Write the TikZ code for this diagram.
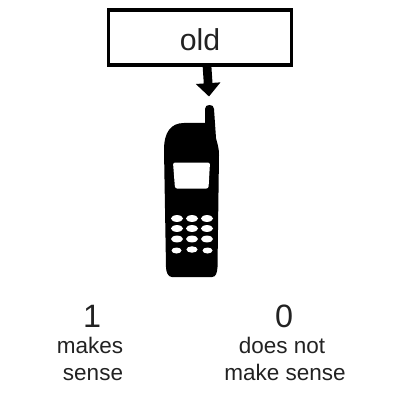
\documentclass[tikz,border=0pt]{standalone}
\usepackage{fontspec}
\setmainfont{Liberation Sans}
\usetikzlibrary{positioning}
\usetikzlibrary{arrows.meta}
\definecolor{darktext}{HTML}{222222}
\tikzset {
  % framed word on top
  wordbox/.style = {draw=black, line width=2.6pt, fill=white, minimum width=4.575cm, minimum height=1.375cm, inner sep=0pt, text=darktext, font=\fontsize{21.5}{24}\selectfont, text height=0.625cm, text depth=0cm},
  % big block arrow
  blockarrow/.style = {-{Triangle[width=17pt, length=9.5pt]}, line width=6.2pt, black},
  % score digits and captions
  digit/.style = {anchor=base, text=darktext, font=\fontsize{23}{26}\selectfont, inner sep=0pt},
  caption/.style = {anchor=base, text=darktext, font=\fontsize{16}{18}\selectfont, inner sep=0pt},
  % keys on the phone
  phonekey/.style = {fill=white, draw=none},
}
\begin{document}
\begin{tikzpicture}[x=0.025cm, y=-0.025cm]

        \useasboundingbox (0, 0) rectangle (400, 400);

        % phone
        \fill[black] (205, 123) -- (205, 109)
          .. controls (205, 106) and (207, 105) .. (209.5, 105)
          .. controls (212, 105) and (214, 106) .. (214, 109)
          -- (216, 138)
          .. controls (217, 143) and (219, 147) .. (219, 155)
          -- (217.5, 267)
          .. controls (217, 273) and (216, 277) .. (212, 277)
          -- (172, 277)
          .. controls (168, 277) and (166, 272) .. (166, 267)
          -- (164, 150)
          .. controls (164, 132) and (171, 123) .. (184, 123)
          -- cycle;

        \fill[white, rounded corners=1.5pt] (173, 162.5) -- (210, 162.5) -- (208.5, 188.5) -- (175, 188.5) -- cycle;

        \foreach \x in {177, 192, 207} {
          \foreach \y in {218.5, 228.5, 239} {
            \fill[phonekey] (\x, \y) ellipse [x radius=6, y radius=3.4];
          }
        }
        \fill[phonekey] (176.5, 250.5) ellipse [x radius=5, y radius=3];
        \fill[phonekey] (192, 249.5) ellipse [x radius=5.6, y radius=3.2];
        \fill[phonekey] (207.5, 250.5) ellipse [x radius=5, y radius=3];

        \node[wordbox] (old) at (200, 37.5) {old};

        \coordinate (arrowstart) at (207, 66);
        \coordinate (arrowtip) at (209, 96.5);
        \draw [blockarrow] (arrowstart) -- (arrowtip);

        \node[digit] (one) at (92, 327) {1};
        \node[caption] (makes) at (90, 353) {makes};
        \node[caption] (sense) at (93, 380) {sense};

        \node[digit] (zero) at (284, 327) {0};
        \node[caption] (doesnot) at (282, 353) {does not};
        \node[caption] (makesense) at (285, 380) {make sense};

      \end{tikzpicture}
\end{document}
